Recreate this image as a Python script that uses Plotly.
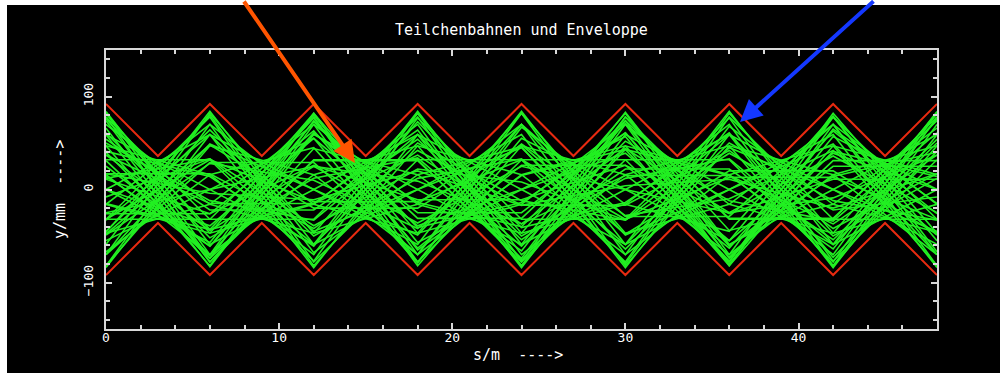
import plotly.graph_objects as go

# ---- data ----
lens_s = [0, 6, 12, 18, 24, 30, 36, 42, 48]            # s/m of lens positions (trajectory kinks)
env_s = [0, 3, 6, 9, 12, 15, 18, 21, 24, 27, 30, 33, 36, 39, 42, 45, 48]
env_upper = [92, 36, 92, 36, 92, 36, 92, 36, 92, 36, 92, 36, 92, 36, 92, 36, 92]
env_lower = [-92, -36, -92, -36, -92, -36, -92, -36, -92, -36, -92, -36, -92, -36, -92, -36, -92]

# particle positions y/mm at each lens position (estimated)
trajectories = [
    [84, -59, 0, 59, -84, 59, 0, -59, 84],
    [61, -52, 12, 34, -61, 52, -12, -34, 61],
    [74, -74, 31, 31, -74, 74, -31, -31, 74],
    [37, -44, 25, 9, -37, 44, -25, -9, 37],
    [59, -83, 59, 0, -59, 83, -59, 0, 59],
    [40, -71, 60, -14, -40, 71, -60, 14, 40],
    [11, -26, 26, -11, -11, 26, -26, 11, 11],
    [16, -70, 82, -47, -16, 70, -82, 47, 16],
    [0, -39, 55, -39, 0, 39, -55, 39, 0],
    [-15, -43, 77, -65, 15, 43, -77, 65, -15],
    [-26, -26, 63, -63, 26, 26, -63, 63, -26],
    [-47, -16, 70, -82, 47, 16, -70, 82, -47],
    [-25, 0, 25, -36, 25, 0, -25, 36, -25],
    [-67, 16, 45, -79, 67, -16, -45, 79, -67],
    [-70, 29, 29, -70, 70, -29, -29, 70, -70],
    [-49, 28, 10, -42, 49, -28, -10, 42, -49],
    [-70, 49, 0, -49, 70, -49, 0, 49, -70],
    [-82, 70, -16, -47, 82, -70, 16, 47, -82],
    [-48, 48, -20, -20, 48, -48, 20, 20, -48],
    [-70, 82, -47, -16, 70, -82, 47, 16, -70],
    [-45, 64, -45, 0, 45, -64, 45, 0, -45],
    [-46, 80, -68, 16, 46, -80, 68, -16, -46],
    [-32, 78, -78, 32, 32, -78, 78, -32, -32],
    [-8, 33, -39, 22, 8, -33, 39, -22, -8],
    [0, 59, -84, 59, 0, -59, 84, -59, 0],
    [12, 33, -59, 50, -12, -33, 59, -50, 12],
    [32, 32, -77, 77, -32, -32, 77, -77, 32],
    [41, 14, -61, 73, -41, -14, 61, -73, 41],
    [59, 0, -59, 84, -59, 0, 59, -84, 59],
    [17, -4, -11, 20, -17, 4, 11, -20, 17],
    [78, -32, -32, 78, -78, 32, 32, -78, 78],
    [76, -43, -15, 64, -76, 43, 15, -64, 76],
    [78, -78, 32, 32, -78, 78, -32, -32, 78],
    [25, -61, 61, -25, -25, 61, -61, 25, 25],
    [-32, -32, 78, -78, 32, 32, -78, 78, -32],
    [54, -22, -22, 54, -54, 22, 22, -54, 54],
    [-59, 84, -59, 0, 59, -84, 59, 0, -59],
    [0, -57, 80, -57, 0, 57, -80, 57, 0],
    [-55, 0, 55, -78, 55, 0, -55, 78, -55],
    [-84, 59, 0, -59, 84, -59, 0, 59, -84],
    [82, -70, 16, 47, -82, 70, -16, -47, 82],
    [66, -78, 44, 16, -66, 78, -44, -16, 66],
    [47, -82, 70, -16, -47, 82, -70, 16, 47],
    [14, -61, 73, -41, -14, 61, -73, 41, 14],
    [-16, -47, 82, -70, 16, 47, -82, 70, -16],
    [50, -12, -33, 59, -50, 12, 33, -59, 50],
    [-82, 47, 16, -70, 82, -47, -16, 70, -82],
    [-33, 59, -50, 12, 33, -59, 50, -12, -33],
    [-16, 70, -82, 47, 16, -70, 82, -47, -16],
    [47, 16, -70, 82, -47, -16, 70, -82, 47],
    [70, -16, -47, 82, -70, 16, 47, -82, 70],
    [82, -47, -16, 70, -82, 47, 16, -70, 82],
    [31, -74, 74, -31, -31, 74, -74, 31, 31],
    [37, -15, -15, 37, -37, 15, 15, -37, 37],
    [-32, 32, -13, -13, 32, -32, 13, 13, -32],
    [17, 17, -42, 42, -17, -17, 42, -42, 17],
]

x_ticks = [0, 10, 20, 30, 40]
y_ticks = [-100, 0, 100]

title_text = "Teilchenbahnen und Enveloppe"
x_label = "s/m  ---->"
y_label = "y/mm  ---->"

# ---- layout geometry (pixels) ----
W, H = 1000, 373
L, R, T, B = 106, 937, 50, 329


def px(xp):
    return (xp - L) / (R - L)


def py(yp):
    return (B - yp) / (B - T)


fig = go.Figure()

GREEN = "#22f022"
RED = "#e82a10"

for tr in trajectories:
    fig.add_trace(go.Scatter(x=lens_s, y=tr, mode="lines",
                             line=dict(color=GREEN, width=1.6),
                             hoverinfo="skip", showlegend=False))

fig.add_trace(go.Scatter(x=env_s, y=env_upper, mode="lines",
                         line=dict(color=RED, width=2), showlegend=False))
fig.add_trace(go.Scatter(x=env_s, y=env_lower, mode="lines",
                         line=dict(color=RED, width=2), showlegend=False))

FONT = "DejaVu Sans Mono"
axis_common = dict(showgrid=False, zeroline=False, showline=True,
                   linecolor="#d8d8d8", linewidth=2, mirror="allticks",
                   ticks="inside", tickcolor="#d8d8d8", tickwidth=1.5, ticklen=6,
                   tickfont=dict(family=FONT, size=13, color="white"))

fig.update_layout(
    width=W, height=H,
    margin=dict(l=L, r=W - R, t=T, b=H - B),
    paper_bgcolor="white", plot_bgcolor="black",
    xaxis=dict(range=[0, 48], tickvals=x_ticks,
               minor=dict(dtick=2, tick0=0, ticks="inside", ticklen=4,
                          tickcolor="#d8d8d8", tickwidth=1.5),
               ticklabelstandoff=-5, **axis_common),
    yaxis=dict(range=[-150, 150], tickvals=y_ticks, tickangle=-90,
               minor=dict(dtick=20, tick0=0, ticks="inside", ticklen=4,
                          tickcolor="#d8d8d8", tickwidth=1.5),
               ticklabelstandoff=6, **axis_common),
    shapes=[dict(type="rect", xref="paper", yref="paper",
                 x0=px(7), x1=px(1000), y0=py(373), y1=py(5),
                 fillcolor="black", line=dict(width=0), layer="below")],
    annotations=[
        dict(text=title_text, xref="paper", yref="paper", x=px(521), y=py(30),
             xanchor="center", yanchor="middle",
             showarrow=False, font=dict(family=FONT, size=15, color="white")),
        dict(text=x_label, xref="paper", yref="paper", x=px(518), y=py(355),
             xanchor="center", yanchor="middle",
             showarrow=False, font=dict(family=FONT, size=15, color="white")),
        dict(text=y_label, xref="paper", yref="paper", x=px(60), y=py(190),
             xanchor="center", yanchor="middle",
             showarrow=False, textangle=-90,
             font=dict(family=FONT, size=15, color="white")),
        dict(x=14.38, y=28.5, xref="x", yref="y", ax=-112, ay=-163, text="",
             showarrow=True, arrowhead=2, arrowsize=1.1, arrowwidth=4,
             arrowcolor="#ff5500"),
        dict(x=36.62, y=72.6, xref="x", yref="y", ax=135, ay=-122, text="",
             showarrow=True, arrowhead=2, arrowsize=1.1, arrowwidth=4,
             arrowcolor="#1438ff"),
    ],
)

fig.write_html("out.html", config={"displayModeBar": False},
               post_script="document.body.style.margin='0';document.body.style.padding='0';")
